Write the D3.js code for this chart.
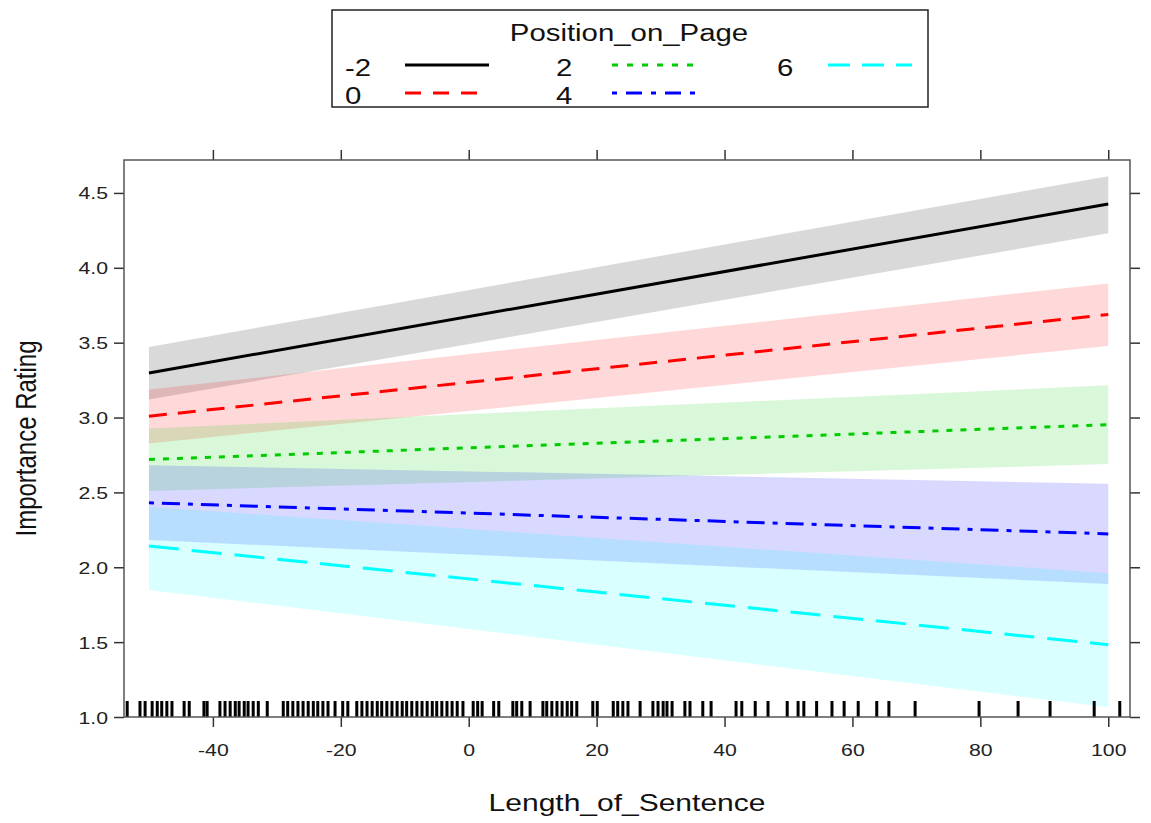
<!DOCTYPE html>
<html lang="en">
<head>
<meta charset="UTF-8">
<title>Effect plot</title>
<style>
  body { margin: 0; background: #fff; }
  text { font-family: "Liberation Sans", Arial, sans-serif; }
</style>
</head>
<body>
<script src="https://cdnjs.cloudflare.com/ajax/libs/d3/7.8.5/d3.min.js"></script>
<script>
    // Position_on_Page levels and fitted lines at Length_of_Sentence = -50 and 100
    var levels = ["-2", "0", "2", "4", "6"];
    var xEnds = [-50, 100];
    var fitLeft   = [3.298, 3.009, 2.720, 2.431, 2.142];
    var fitRight  = [4.426, 3.688, 2.952, 2.223, 1.483];
    var lowerLeft = [3.120, 2.827, 2.509, 2.182, 1.849];
    var upperLeft = [3.471, 3.187, 2.927, 2.682, 2.404];
    var lowerRight = [4.230, 3.478, 2.689, 1.889, 1.065];
    var upperRight = [4.612, 3.896, 3.215, 2.558, 1.960];

    var xTicks = [-40, -20, 0, 20, 40, 60, 80, 100];
    var yTicks = [1.0, 1.5, 2.0, 2.5, 3.0, 3.5, 4.0, 4.5];

    // observed Length_of_Sentence values (rug)
    var rugValues = [-53.4, -51.4, -50.6, -49.5, -48.7, -48.0, -47.2, -46.4, -44.5, -43.7,
        -41.4, -40.9, -38.9, -38.1, -37.3, -36.5, -35.9, -35.1, -34.5, -33.7, -32.9, -31.5,
        -29.0, -28.3, -27.5, -26.7, -25.9, -25.1, -24.3, -23.6, -22.8, -22.0, -20.9, -19.7,
        -18.9, -17.5, -16.7, -15.9, -15.1, -14.3, -13.6, -12.8, -12.0, -11.2, -10.4, -9.7,
        -8.9, -8.1, -7.3, -6.5, -5.7, -5.0, -4.2, -3.4, -2.6, -1.8, -0.9, 0.7, 1.4, 2.1,
        3.9, 4.7, 6.9, 7.5, 8.3, 9.6, 11.6, 12.2, 13.0, 13.8, 14.6, 15.4, 16.1, 16.9, 19.4,
        20.1, 22.6, 23.3, 24.1, 24.9, 26.8, 28.8, 29.6, 30.4, 31.0, 31.8, 33.8, 34.6, 36.6,
        37.9, 41.8, 42.7, 44.8, 46.8, 49.8, 51.5, 52.4, 54.4, 56.8, 58.7, 60.9, 63.8, 65.7,
        69.8, 79.8, 85.9, 90.9, 97.8, 101.8];

    var colors = ["#000000", "#ff0000", "#00cd00", "#0000ff", "#00ffff"];
    var dashes = [null, "18,11", "6,8", "5,8,18,8", "30,13"];
    var legendDashes = [null, "16,12", "6,9", "5,9,16,9", "22,12"];

    var W = 1151, H = 823;
    var panel = {left: 124, right: 1130, top: 160, bottom: 717};
    var sx = 1.25; // the picture is wider than tall, text looks stretched

    var x = d3.scaleLinear().domain([-53.9, 103.4]).range([panel.left, panel.right]);
    var y = d3.scaleLinear().domain([1.0, 4.72]).range([panel.bottom, panel.top]);

    var svg = d3.select('body').append('svg')
        .attr('width', W)
        .attr('height', H);

    function label(g, tx, ty, str, size, anchor, rot) {
        return g.append('text')
            .attr('transform', `translate(${tx}, ${ty}) scale(${sx}, 1)` + (rot ? ` rotate(${rot})` : ''))
            .attr('text-anchor', anchor || 'start')
            .attr('font-size', size)
            .attr('fill', '#111')
            .text(str);
    }

    // confidence bands
    var bands = levels.map(function(d, i) {
        return [
            {x: xEnds[0], lo: lowerLeft[i], hi: upperLeft[i]},
            {x: xEnds[1], lo: lowerRight[i], hi: upperRight[i]}
        ];
    });
    var area = d3.area()
        .x(function(d) { return x(d.x); })
        .y0(function(d) { return y(d.lo); })
        .y1(function(d) { return y(d.hi); });

    svg.append('g').selectAll('path')
        .data(bands)
      .enter().append('path')
        .attr('d', area)
        .attr('fill', function(d, i) { return colors[i]; })
        .attr('fill-opacity', 0.15);

    // fitted lines
    var line = d3.line()
        .x(function(d) { return x(d.x); })
        .y(function(d) { return y(d.y); });

    svg.append('g').selectAll('path')
        .data(levels.map(function(d, i) {
            return [{x: xEnds[0], y: fitLeft[i]}, {x: xEnds[1], y: fitRight[i]}];
        }))
      .enter().append('path')
        .attr('d', line)
        .attr('fill', 'none')
        .attr('stroke', function(d, i) { return colors[i]; })
        .attr('stroke-width', 3)
        .attr('stroke-dasharray', function(d, i) { return dashes[i]; });

    // rug
    svg.append('g').selectAll('line')
        .data(rugValues)
      .enter().append('line')
        .attr('x1', function(d) { return x(d); })
        .attr('x2', function(d) { return x(d); })
        .attr('y1', panel.bottom)
        .attr('y2', panel.bottom - 16)
        .attr('stroke', '#000')
        .attr('stroke-width', 3);

    // axes
    var gB = svg.append('g')
        .attr('transform', `translate(0, ${panel.bottom})`)
        .call(d3.axisBottom(x).tickValues(xTicks).tickFormat(function(d) { return String(d); })
            .tickSize(10).tickSizeOuter(0));
    var gT = svg.append('g')
        .attr('transform', `translate(0, ${panel.top})`)
        .call(d3.axisTop(x).tickValues(xTicks).tickFormat('').tickSize(10).tickSizeOuter(0));
    var gL = svg.append('g')
        .attr('transform', `translate(${panel.left}, 0)`)
        .call(d3.axisLeft(y).tickValues(yTicks).tickFormat(d3.format('.1f')).tickSize(10).tickSizeOuter(0));
    var gR = svg.append('g')
        .attr('transform', `translate(${panel.right}, 0)`)
        .call(d3.axisRight(y).tickValues(yTicks).tickFormat('').tickSize(10).tickSizeOuter(0));

    [gB, gT, gL, gR].forEach(function(g) {
        g.select('.domain').remove();
        g.selectAll('.tick line').attr('stroke', '#333').attr('stroke-width', 1.5);
        g.selectAll('.tick text')
            .attr('font-size', 17)
            .attr('fill', '#222')
            .style('font-family', '"Liberation Sans", Arial, sans-serif');
    });
    gB.selectAll('.tick text').attr('y', 0).attr('dy', 0)
        .attr('transform', `translate(0, 39) scale(${sx}, 1)`);
    gL.selectAll('.tick text').attr('x', 0).attr('dy', 0)
        .attr('transform', `translate(-16, 6) scale(${sx}, 1)`);

    // panel border
    svg.append('rect')
        .attr('x', panel.left)
        .attr('y', panel.top)
        .attr('width', panel.right - panel.left)
        .attr('height', panel.bottom - panel.top)
        .attr('fill', 'none')
        .attr('stroke', '#555')
        .attr('stroke-width', 1.5);

    // axis titles
    label(svg, (panel.left + panel.right) / 2, 811, 'Length_of_Sentence', 24, 'middle');
    label(svg, 36, (panel.top + panel.bottom) / 2, 'Importance Rating', 24, 'middle', -90);

    // legend
    var legend = svg.append('g');
    legend.append('rect')
        .attr('x', 332).attr('y', 10)
        .attr('width', 596).attr('height', 97)
        .attr('fill', '#fff')
        .attr('stroke', '#222')
        .attr('stroke-width', 1.5);
    label(legend, 629, 41, 'Position_on_Page', 23.5, 'middle');

    var colX = [345, 556, 777];
    var lineX = [405, 612, 828];
    var rowY = [65, 93];
    levels.forEach(function(lev, i) {
        var c = Math.floor(i / 2), r = i % 2;
        label(legend, colX[c], rowY[r] + 11, lev, 23.5, 'start');
        legend.append('line')
            .attr('x1', lineX[c]).attr('x2', lineX[c] + 84)
            .attr('y1', rowY[r]).attr('y2', rowY[r])
            .attr('stroke', colors[i])
            .attr('stroke-width', 3)
            .attr('stroke-dasharray', legendDashes[i]);
    });
</script>
</body>
</html>
